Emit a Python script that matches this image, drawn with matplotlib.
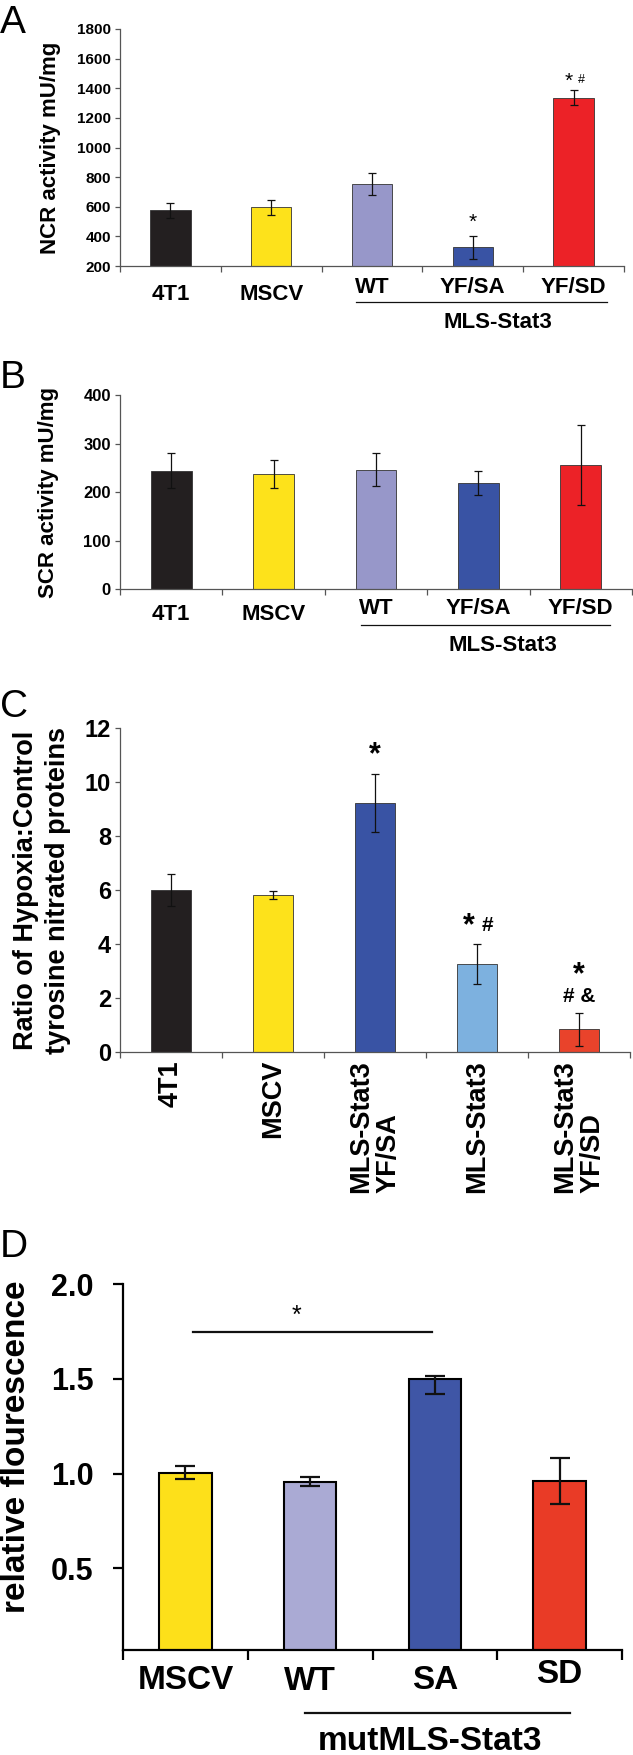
import matplotlib.pyplot as plt
import numpy as np

plt.rcParams['font.family'] = ['Liberation Sans', 'DejaVu Sans']

# A: NCR activity
a_groups = ["4T1", "MSCV", "WT", "YF/SA", "YF/SD"]
a_values = [575, 595, 754, 325, 1335]
a_errors = [48, 52, 73, 79, 50]

# B: SCR activity
b_groups = ["4T1", "MSCV", "WT", "YF/SA", "YF/SD"]
b_values = [244, 238, 246, 218, 256]
b_errors = [36, 29, 34, 25, 83]

# C: hypoxia / control ratio
c_groups = ["4T1", "MSCV", "MLS-Stat3\nYF/SA", "MLS-Stat3", "MLS-Stat3\nYF/SD"]
c_values = [6.0, 5.81, 9.23, 3.27, 0.84]
c_errors = [0.58, 0.15, 1.07, 0.74, 0.62]

# D: relative fluorescence
d_groups = ["MSCV", "WT", "SA", "SD"]
d_values = [1.005, 0.958, 1.5, 0.96]
d_err_low = [0.035, 0.022, 0.08, 0.12]
d_err_high = [0.035, 0.022, 0.015, 0.12]

ab_colors = ["#231f20", "#fde21b", "#9797c9", "#3953a4", "#ec2227"]
c_colors = ["#231f20", "#fde21b", "#3953a4", "#7db1df", "#e9432b"]
d_colors = ["#fde01a", "#aaaad4", "#3f56a6", "#e93b26"]

W, H = 633, 1755


def box(left, top, right, bottom):
    return [left / W, 1 - bottom / H, (right - left) / W, (bottom - top) / H]


def small_style(ax, n):
    for s in ["top", "right"]:
        ax.spines[s].set_visible(False)
    for s in ["left", "bottom"]:
        ax.spines[s].set_color("#555555")
        ax.spines[s].set_linewidth(0.9)
    ax.set_xlim(-0.5, n - 0.5)
    ax.set_xticks(np.arange(-0.5, n, 1))
    ax.tick_params(axis="x", length=4, width=0.9, color="#555555", labelbottom=False)
    ax.tick_params(axis="y", length=3.5, width=0.9, color="#555555", pad=3)


fig = plt.figure(figsize=(W / 100, H / 100), dpi=100)

# ---------------- A ----------------
axA = fig.add_axes(box(120, 29, 624, 266))
x = np.arange(len(a_values))
axA.bar(x, a_values, 0.4, color=ab_colors, edgecolor="#333333", linewidth=0.6,
        yerr=a_errors, capsize=3, error_kw=dict(elinewidth=0.9, capthick=0.9, ecolor="#111111"))
small_style(axA, len(a_values))
axA.set_ylim(200, 1800)
axA.set_yticks(np.arange(200, 1801, 200))
for t in axA.get_yticklabels():
    t.set_fontsize(11)
    t.set_fontweight("bold")
axA.set_ylabel("NCR activity mU/mg", fontsize=16, fontweight="bold", va="center")
axA.yaxis.set_label_coords(-0.137, 0.5)
tr = axA.get_xaxis_transform()
for i, g in enumerate(a_groups):
    yy = -0.122 if i < 2 else -0.089
    axA.text(i, yy, g, transform=tr, ha="center", va="center", fontsize=16, fontweight="bold")
axA.plot([1.84, 4.33], [-0.152, -0.152], transform=tr, color="#111111", lw=0.9, clip_on=False)
axA.text(3.25, -0.24, "MLS-Stat3", transform=tr, ha="center", va="center", fontsize=16, fontweight="bold")
axA.text(3, 493, "*", ha="center", va="center", fontsize=15)
axA.text(3.95, 1450, "*", ha="center", va="center", fontsize=15)
axA.text(4.08, 1458, "#", ha="center", va="center", fontsize=9)
fig.text(0, 1 - 33 / H, "A", fontsize=28, ha="left", va="baseline")

# ---------------- B ----------------
axB = fig.add_axes(box(120, 395, 632, 589))
x = np.arange(len(b_values))
axB.bar(x, b_values, 0.4, color=ab_colors, edgecolor="#333333", linewidth=0.6,
        yerr=b_errors, capsize=3, error_kw=dict(elinewidth=0.9, capthick=0.9, ecolor="#111111"))
small_style(axB, len(b_values))
axB.set_ylim(0, 400)
axB.set_yticks(np.arange(0, 401, 100))
for t in axB.get_yticklabels():
    t.set_fontsize(12)
    t.set_fontweight("bold")
axB.set_ylabel("SCR activity mU/mg", fontsize=16, fontweight="bold", va="center")
axB.yaxis.set_label_coords(-0.139, 0.5)
tr = axB.get_xaxis_transform()
for i, g in enumerate(b_groups):
    yy = -0.134 if i < 2 else -0.098
    axB.text(i, yy, g, transform=tr, ha="center", va="center", fontsize=16, fontweight="bold")
axB.plot([1.85, 4.29], [-0.186, -0.186], transform=tr, color="#111111", lw=0.9, clip_on=False)
axB.text(3.24, -0.289, "MLS-Stat3", transform=tr, ha="center", va="center", fontsize=16, fontweight="bold")
fig.text(0, 1 - 388 / H, "B", fontsize=28, ha="left", va="baseline")

# ---------------- C ----------------
axC = fig.add_axes(box(120, 728, 630, 1052))
x = np.arange(len(c_values))
axC.bar(x, c_values, 0.4, color=c_colors, edgecolor="#333333", linewidth=0.6,
        yerr=c_errors, capsize=3, error_kw=dict(elinewidth=0.9, capthick=0.9, ecolor="#111111"))
small_style(axC, len(c_values))
axC.set_ylim(0, 12)
axC.set_yticks(np.arange(0, 13, 2))
for t in axC.get_yticklabels():
    t.set_fontsize(17)
    t.set_fontweight("bold")
axC.set_ylabel("Ratio of Hypoxia:Control\ntyrosine nitrated proteins", fontsize=19.5,
               fontweight="bold", va="center", linespacing=1.3)
axC.yaxis.set_label_coords(-0.152, 0.5)
tr = axC.get_xaxis_transform()
for i, g in enumerate(c_groups):
    axC.text(i, -0.025, g, transform=tr, ha="center", va="top", rotation=90,
             fontsize=19.5, fontweight="bold", multialignment="left", linespacing=1.05)
axC.text(2, 11.0, "*", ha="center", va="center", fontsize=22, fontweight="bold")
axC.text(2.92, 4.66, "*", ha="center", va="center", fontsize=22, fontweight="bold")
axC.text(3.1, 4.7, "#", ha="center", va="center", fontsize=15, fontweight="bold")
axC.text(4.0, 2.85, "*", ha="center", va="center", fontsize=22, fontweight="bold")
axC.text(4.0, 2.07, "# &", ha="center", va="center", fontsize=15, fontweight="bold")
fig.text(0, 1 - 717 / H, "C", fontsize=28, ha="left", va="baseline")

# ---------------- D ----------------
axD = fig.add_axes(box(123, 1284, 622, 1650))
x = np.arange(len(d_values))
axD.bar(x, d_values, 0.42, color=d_colors, edgecolor="black", linewidth=1.5,
        yerr=[d_err_low, d_err_high], capsize=7,
        error_kw=dict(elinewidth=1.6, capthick=1.6, ecolor="#111111"))
for s in ["top", "right"]:
    axD.spines[s].set_visible(False)
for s in ["left", "bottom"]:
    axD.spines[s].set_linewidth(1.6)
axD.set_xlim(-0.5, len(d_values) - 0.5)
axD.set_xticks(np.arange(-0.5, len(d_values), 1))
axD.tick_params(axis="x", length=7, width=1.6, labelbottom=False)
axD.set_ylim(0.07, 2.0)
axD.set_yticks([0.5, 1.0, 1.5, 2.0])
axD.set_yticklabels(["0.5", "1.0", "1.5", "2.0"])
axD.tick_params(axis="y", length=7, width=1.6, pad=14)
for t in axD.get_yticklabels():
    t.set_fontsize(22)
    t.set_fontweight("bold")
axD.set_ylabel("relative flourescence", fontsize=24, fontweight="bold", va="center")
axD.yaxis.set_label_coords(-0.214, 0.555)
tr = axD.get_xaxis_transform()
d_label_y = [-0.082, -0.087, -0.082, -0.068]
for i, g in enumerate(d_groups):
    axD.text(i, d_label_y[i], g, transform=tr, ha="center", va="center", fontsize=24, fontweight="bold")
axD.plot([0.96, 3.08], [-0.172, -0.172], transform=tr, color="#111111", lw=1.6, clip_on=False)
axD.text(1.96, -0.251, "mutMLS-Stat3", transform=tr, ha="center", va="center", fontsize=24, fontweight="bold")
axD.plot([0.06, 1.98], [1.748, 1.748], color="#111111", lw=1.6)
axD.text(0.89, 1.83, "*", ha="center", va="center", fontsize=18)
fig.text(0, 1 - 1257 / H, "D", fontsize=28, ha="left", va="baseline")

fig.savefig("out.png", dpi=100)
